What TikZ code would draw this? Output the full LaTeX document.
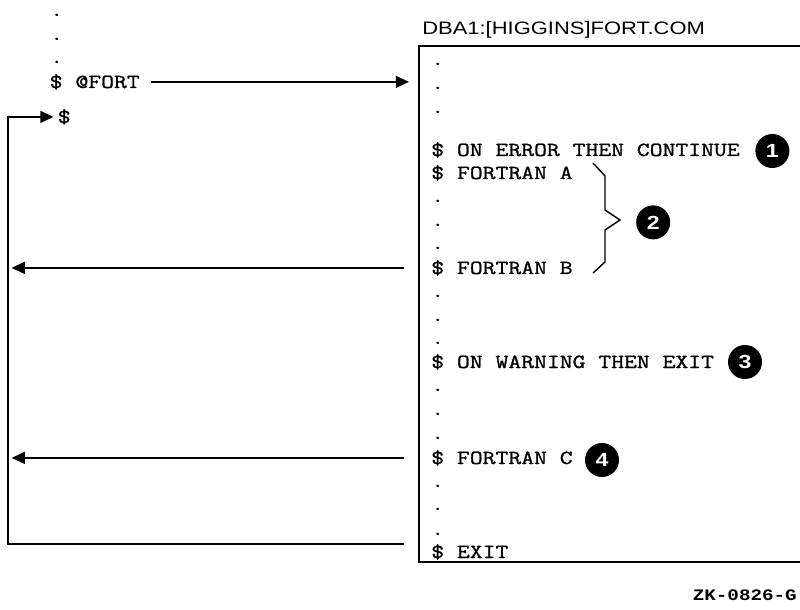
\documentclass[tikz,border=0pt]{standalone}
\usepackage{fontspec}
\newfontfamily\listfont{Latin Modern Mono}[FakeStretch=1.25, FakeBold=1.2]
\newfontfamily\titlefont{Liberation Sans}[FakeStretch=1.22]
\newfontfamily\zkfont{Liberation Mono}[FakeStretch=1.2]
\usepackage{tikz}
\usetikzlibrary{arrows.meta, positioning}

\begin{document}
\begin{tikzpicture}[
	codeline/.style={anchor=base west, inner sep=0pt, font=\fontsize{14.2}{17}\selectfont\listfont},
	num/.style={circle, fill=black, text=white, inner sep=0pt, minimum size=0.85cm,
	            font=\fontsize{13.5}{15}\selectfont\titlefont\bfseries},
	arr/.style={-{Triangle[length=3.3mm, width=3mm]}, line width=1pt},
	rule/.style={line width=1pt}
	]
\useasboundingbox (0,0) rectangle (20,-15.25);

% calling procedure
\node[codeline] (cdot1) at (1.25,-0.4) {.};
\node[codeline] (cdot2) at (1.25,-1.0) {.};
\node[codeline] (cdot3) at (1.25,-1.575) {.};
\node[codeline] (fort) at (1.2375,-2.2) {\$ @FORT};
\node[codeline] (ret) at (1.4375,-3.075) {\$};

% the command file
\node[anchor=base west, inner sep=0pt, font=\fontsize{12.8}{15}\selectfont\titlefont] (file)
	at (10.55,-0.8625) {DBA1:[HIGGINS]FORT.COM};
\coordinate (boxw) at (10.475,-1.15);
\draw[rule] (20,-1.15) -| (10.475,-14.05) -- (20,-14.05);

\foreach \y [count=\i] in {1.625,2.225,2.825,5.05,5.65,6.225,7.425,8.025,8.6,
                           9.775,10.375,10.975,12.175,12.75,13.375}
	\node[codeline] (ldot\i) at (10.775,-\y) {.};
\node[codeline] (onerr) at (10.775,-3.9) {\$ ON ERROR THEN CONTINUE};
\node[codeline] (fa) at (10.775,-4.475) {\$ FORTRAN A};
\node[codeline] (fb) at (10.775,-6.85) {\$ FORTRAN B};
\node[codeline] (onwarn) at (10.775,-9.2) {\$ ON WARNING THEN EXIT};
\node[codeline] (fc) at (10.775,-11.6) {\$ FORTRAN C};
\node[codeline] (exit) at (10.775,-13.95) {\$ EXIT};

% brace round A and B
\draw[rule] (14.825,-4.075) -- (15.125,-4.4) -- (15.125,-5.25) -- (15.5,-5.5)
	-- (15.125,-5.75) -- (15.125,-6.55) -- (14.825,-6.825);

\node[num] (n1) at (19.31,-3.775) {1};
\node[num] (n2) at (16.33,-5.56) {2};
\node[num] (n3) at (18.625,-9.05) {3};
\node[num] (n4) at (15.05,-11.5) {4};

% control flow
\coordinate (loopx) at (0.2,0);
\coordinate (exitl) at (10.1,-13.6);
\draw[arr, shorten <=0.275cm, shorten >=0.25cm] (fort.east) -- (fort.east -| boxw);
\draw[arr, shorten >=0.1cm] (exitl) -| (loopx |- ret.west) -- (ret.west);
\draw[arr, shorten >=0.09cm] (fb.west -| exitl) -- (fb.west -| loopx);
\draw[arr, shorten >=0.09cm] (fc.west -| exitl) -- (fc.west -| loopx);

\node[anchor=base east, inner sep=0pt, font=\fontsize{11.4}{13}\selectfont\zkfont\bfseries] (figid)
	at (19.925,-15.0) {ZK-0826-G};
\end{tikzpicture}
\end{document}
